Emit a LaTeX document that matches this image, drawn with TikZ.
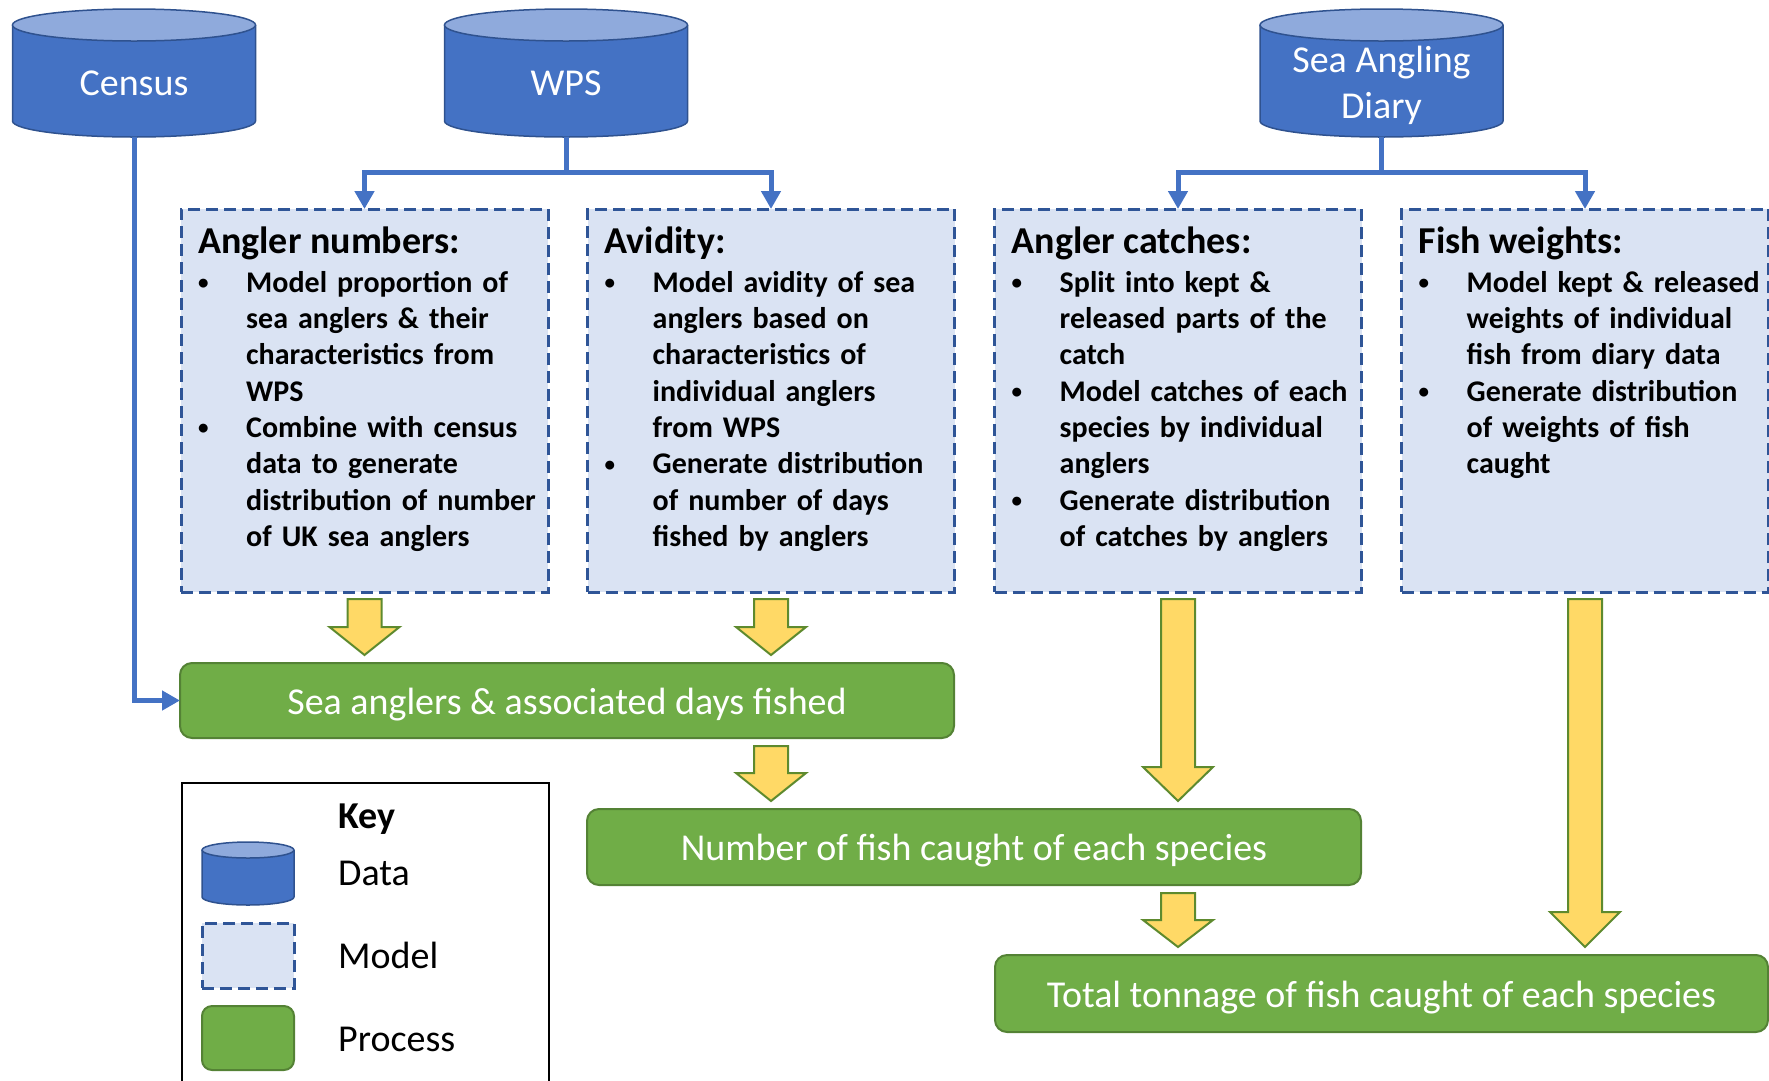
\documentclass[tikz,border=0pt]{standalone}
\usepackage{fontspec}
\setmainfont{Carlito}
\usetikzlibrary{arrows.meta,calc}
\definecolor{cylblue}{HTML}{4472C4}
\definecolor{cyltop}{HTML}{8FAADC}
\definecolor{cylline}{HTML}{2F528F}
\definecolor{modfill}{HTML}{DAE3F3}
\definecolor{modline}{HTML}{2F5597}
\definecolor{procfill}{HTML}{70AD47}
\definecolor{procline}{HTML}{548235}
\definecolor{yfill}{HTML}{FFD966}
\definecolor{yline}{HTML}{5E8A2E}
\newcommand\cylshape[5]{%
  \fill[cylblue] ({#1-#4},#2) rectangle ({#1+#4},#3);
  \fill[cylblue] (#1,#3) ellipse[x radius=#4pt, y radius=#5pt];
  \draw[cylline, line width=1.5pt] ({#1-#4},#2) -- ({#1-#4},#3) arc[start angle=180, end angle=360, x radius=#4pt, y radius=#5pt] -- ({#1+#4},#2);
  \filldraw[fill=cyltop, draw=cylline, line width=1.5pt] (#1,#2) ellipse[x radius=#4pt, y radius=#5pt];
}
\newcommand\blockarr[3]{%
  \filldraw[yarr] let \p1=(#1), \p2=(#2) in
   (\x1-17pt,\y1) -- (\x1+17pt,\y1) -- (\x1+17pt,\y2+#3) -- (\x1+35pt,\y2+#3)
   -- (\x1,\y2) -- (\x1-35pt,\y2+#3) -- (\x1-17pt,\y2+#3) -- cycle;
}
\newcommand\bul{\makebox[48pt][l]{\raisebox{2.5pt}{\fontsize{21}{21}\selectfont\textbullet}}}
\newcommand\ind{\hspace*{48pt}}
\newcommand\fst{\rule{0pt}{24pt}}
\tikzset{
  datafr/.style={inner sep=0pt, outer sep=0pt, minimum width=243pt, minimum height=128pt},
  cyllab/.style={inner sep=0pt, text=white, font=\fontsize{38}{46}\selectfont},
  modelbox/.style={draw=modline, fill=modfill, line width=3pt, dash pattern=on 12pt off 6pt, inner sep=0pt, outer sep=0pt},
  procbox/.style={draw=procline, fill=procfill, line width=2pt, rounded corners=12pt, inner sep=0pt, outer sep=0pt, text=white, font=\fontsize{38}{46}\selectfont},
  proctxt/.style={text height=30pt, text depth=3pt},
  ttl/.style={inner sep=0pt, anchor=base west, font=\fontsize{38}{46}\selectfont\bfseries},
  bodytxt/.style={inner sep=0pt, anchor=north west, text width=350pt, align=left, font=\fontsize{30}{36.3}\selectfont\bfseries},
  conn/.style={draw=cylblue, line width=5pt, -{Triangle[length=18pt,width=19pt]}},
  yarr/.style={fill=yfill, draw=yline, line width=2pt, line join=miter},
  keybox/.style={draw=black, line width=2pt, inner sep=0pt, outer sep=0pt},
  keylab/.style={inner sep=0pt, anchor=base west, font=\fontsize{38}{46}\selectfont},
}
\begin{document}
\begin{tikzpicture}[x=1pt, y=-1pt]
\useasboundingbox (0,0) rectangle (1769,1080);

% data cylinders
\cylshape{134}{25}{121}{121.5}{16}
\cylshape{566}{25}{121}{121.5}{16}
\cylshape{1381.5}{25}{121}{121.5}{16}
\node[datafr] (census) at (134,73) {};
\node[datafr] (wps) at (566,73) {};
\node[datafr] (diary) at (1381.5,73) {};
\node[cyllab, anchor=base] (censusL) at (134,95) {Census};
\node[cyllab, anchor=base] (wpsL) at (566,95) {WPS};
\node[cyllab, anchor=base] (diaryL1) at (1381.5,72) {Sea Angling};
\node[cyllab, anchor=base] (diaryL2) at (1381.5,118) {Diary};

% model boxes
\node[modelbox, minimum width=367pt, minimum height=383pt] (m1) at (364.5,400.5) {};
\node[modelbox, minimum width=367pt, minimum height=383pt] (m2) at (771,400.5) {};
\node[modelbox, minimum width=367pt, minimum height=383pt] (m3) at (1178,400.5) {};
\node[modelbox, minimum width=367pt, minimum height=383pt] (m4) at (1585,400.5) {};

\node[ttl] (t1) at ($(m1.north west)+(17,44)$) {Angler numbers:};
\node[ttl] (t2) at ($(m2.north west)+(17,44)$) {Avidity:};
\node[ttl] (t3) at ($(m3.north west)+(17,44)$) {Angler catches:};
\node[ttl] (t4) at ($(m4.north west)+(17,44)$) {Fish weights:};

\node[bodytxt] (b1) at ($(m1.north west)+(17,59)$) {\fst\bul Model proportion of\\
\ind sea anglers \& their\\
\ind characteristics from\\
\ind WPS\\
\bul Combine with census\\
\ind data to generate\\
\ind distribution of number\\
\ind of UK sea anglers};
\node[bodytxt] (b2) at ($(m2.north west)+(17,59)$) {\fst\bul Model avidity of sea\\
\ind anglers based on\\
\ind characteristics of\\
\ind individual anglers\\
\ind from WPS\\
\bul Generate distribution\\
\ind of number of days\\
\ind fished by anglers};
\node[bodytxt] (b3) at ($(m3.north west)+(17,59)$) {\fst\bul Split into kept \&\\
\ind released parts of the\\
\ind catch\\
\bul Model catches of each\\
\ind species by individual\\
\ind anglers\\
\bul Generate distribution\\
\ind of catches by anglers};
\node[bodytxt] (b4) at ($(m4.north west)+(17,59)$) {\fst\bul Model kept \& released\\
\ind weights of individual\\
\ind fish from diary data\\
\bul Generate distribution\\
\ind of weights of fish\\
\ind caught};

% process boxes
\node[procbox, proctxt, minimum width=774pt, minimum height=75pt] (g1) at (567,700.5) {Sea anglers \& associated days fished};
\node[procbox, proctxt, minimum width=774pt, minimum height=76pt] (g2) at (974,847) {Number of fish caught of each species};
\node[procbox, proctxt, minimum width=773pt, minimum height=77pt] (g3) at (1381.5,993.5) {Total tonnage of fish caught of each species};

% blue connectors
\coordinate (wpsj) at ($(wps.south)+(0,35)$);
\coordinate (diaryj) at ($(diary.south)+(0,35)$);
\draw[conn] (wps.south) -- (wpsj) -| (m1.north);
\draw[conn] (wpsj) -| (m2.north);
\draw[conn] (diary.south) -- (diaryj) -| (m3.north);
\draw[conn] (diaryj) -| (m4.north);
\draw[conn] (census.south) |- (g1.west);

% yellow block arrows
\blockarr{$(m1.south)+(0,7)$}{$(g1.north -| m1.south)+(0,-8)$}{28pt}
\blockarr{$(m2.south)+(0,7)$}{$(g1.north -| m2.south)+(0,-8)$}{28pt}
\blockarr{$(g1.south -| m2.south)+(0,8)$}{$(g2.north -| m2.south)+(0,-8)$}{28pt}
\blockarr{$(m3.south)+(0,7)$}{$(g2.north -| m3.south)+(0,-8)$}{34pt}
\blockarr{$(g2.south -| m3.south)+(0,8)$}{$(g3.north -| m3.south)+(0,-8)$}{27pt}
\blockarr{$(m4.south)+(0,7)$}{$(g3.north -| m4.south)+(0,-8)$}{35pt}

% key
\node[keybox, anchor=north west, minimum width=367pt, minimum height=320pt] (key) at (182,783) {};
\cylshape{248}{850}{897}{46}{8}
\node[inner sep=0pt, minimum width=92pt, minimum height=63pt] (lcyl) at (248,873.5) {};
\node[modelbox, minimum width=92pt, minimum height=65pt] (lmod) at (248,955.5) {};
\node[procbox, minimum width=92pt, minimum height=64pt, rounded corners=10pt] (lproc) at (248,1038) {};
\node[keylab] (kT) at (338,828) {\bfseries Key};
\node[keylab] (kD) at (338,885) {Data};
\node[keylab] (kM) at (338,968) {Model};
\node[keylab] (kP) at (338,1051) {Process};
\end{tikzpicture}
\end{document}
